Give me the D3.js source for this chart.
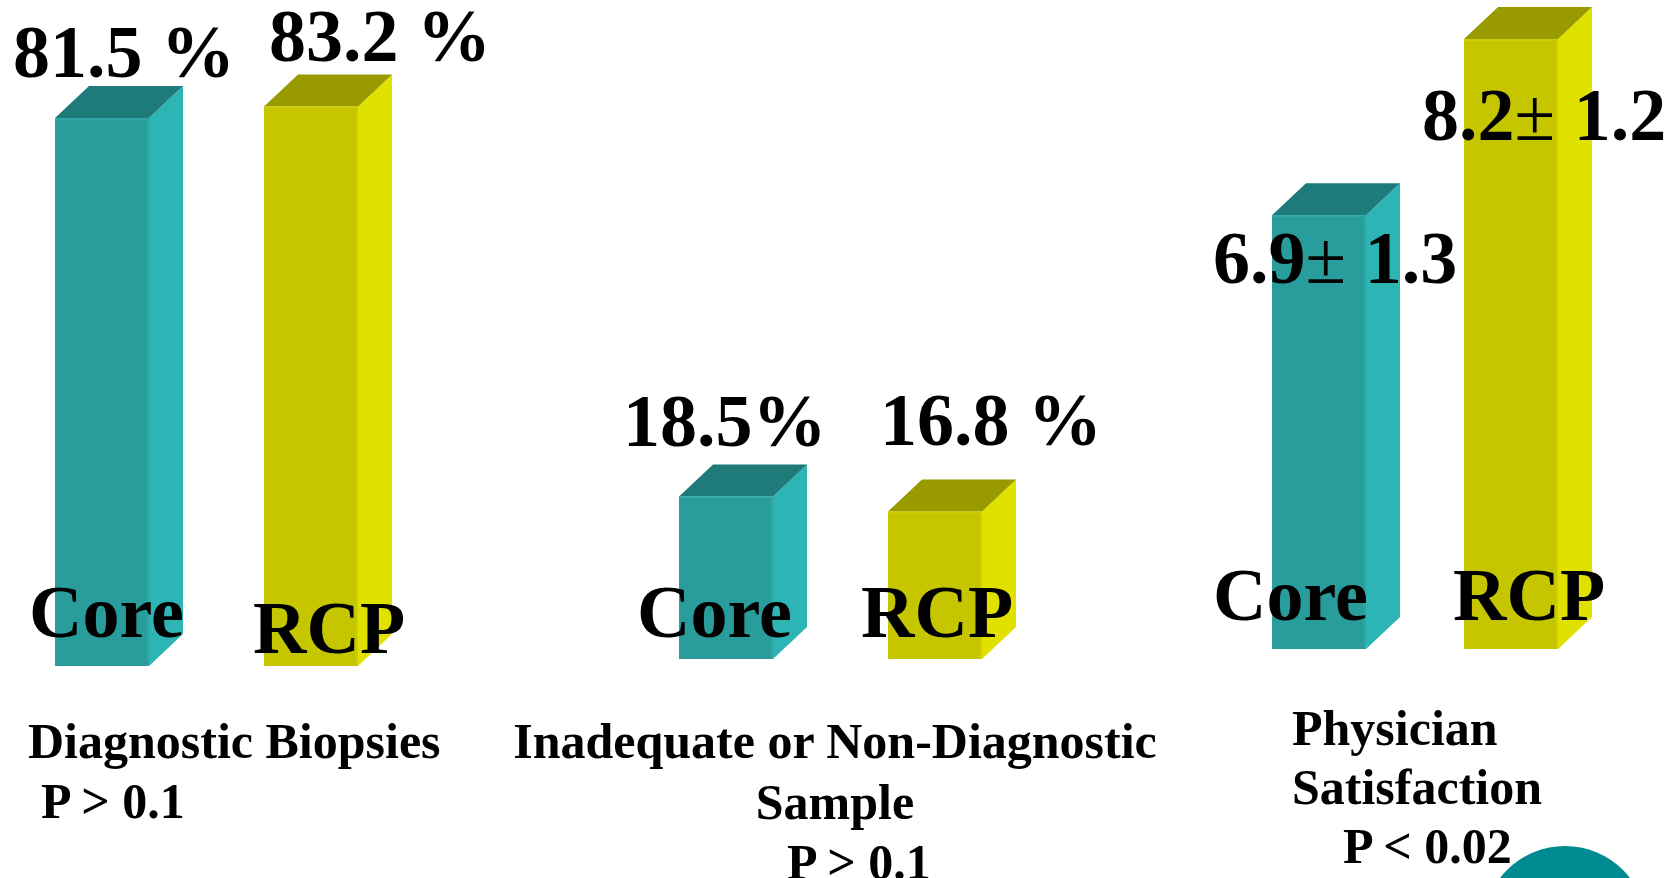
<!DOCTYPE html>
<html>
<head>
<meta charset="utf-8">
<script src="https://cdn.jsdelivr.net/npm/d3@7"></script>
<style>
  html, body { margin: 0; padding: 0; background: #ffffff; }
  svg { display: block; }
  text { font-family: "Liberation Serif", "Times New Roman", Times, serif; font-weight: bold; fill: #000; }
</style>
</head>
<body>
<svg id="chart" width="1679" height="878"></svg>
<script>
// ---- data ----
const categories = ["Diagnostic Biopsies", "Inadequate or Non-Diagnostic Sample", "Physician Satisfaction"];
const series = ["Core", "RCP"];
const coreValues = [81.5, 18.5, 6.9];
const rcpValues = [83.2, 16.8, 8.2];
const coreSD = [null, null, 1.3];
const rcpSD = [null, null, 1.2];
const coreUnitSep = [" ", "", ""];
const rcpUnitSep = [" ", " ", ""];
const pLabels = ["P > 0.1", "P > 0.1", "P < 0.02"];
const categoryLines = [["Diagnostic Biopsies"], ["Inadequate or Non-Diagnostic", "Sample"], ["Physician", "Satisfaction"]];

// ---- layout ----
const W = 1679, H = 878;
const barW = 94, depthX = 34, depthY = 32;
const colors = {
  Core: { front: "#299c9c", side: "#2db4b5", top: "#1f7b79", edge: "#30a6a6" },
  RCP:  { front: "#c6c600", side: "#e1e100", top: "#999900", edge: "#cdcd08" }
};
// one panel per category: bar positions, baseline and value scale
const panels = [
  { xRange: [55, 264],    domain: [0, 100],  yRange: [666, -6.5],
    valuePos: { Core: [13, 77], RCP: [269, 61] },
    namePos:  { Core: [29, 637], RCP: [253, 653] },
    catPos: { anchor: "start", x: 28, y: [758] },
    pPos: { anchor: "start", x: 41, y: 818 } },
  { xRange: [679, 888],   domain: [0, 20],   yRange: [659, 483.4],
    valuePos: { Core: [623, 446], RCP: [880, 445] },
    namePos:  { Core: [637, 637], RCP: [861, 637] },
    catPos: { anchor: "middle", x: 835, y: [758, 819] },
    pPos: { anchor: "start", x: 787, y: 879 } },
  { xRange: [1272, 1464], domain: [3.7, 8.2], yRange: [649, 39],
    valuePos: { Core: [1213, 283], RCP: [1422, 140] },
    namePos:  { Core: [1213, 620], RCP: [1453, 620] },
    catPos: { anchor: "start", x: 1292, y: [745, 804] },
    pPos: { anchor: "start", x: 1343, y: 863 } }
];

const svg = d3.select("#chart");
svg.append("rect").attr("width", W).attr("height", H).attr("fill", "#fff");

const barsLayer = svg.append("g").attr("class", "bars");
const textLayer = svg.append("g").attr("class", "labels");

const valuesBySeries = { Core: coreValues, RCP: rcpValues };
const sdBySeries = { Core: coreSD, RCP: rcpSD };
const sepBySeries = { Core: coreUnitSep, RCP: rcpUnitSep };

panels.forEach((p, i) => {
  const x = d3.scalePoint().domain(series).range(p.xRange);
  const y = d3.scaleLinear().domain(p.domain).range(p.yRange);
  const base = y(p.domain[0]);

  const data = series.map(s => ({ s, v: valuesBySeries[s][i], sd: sdBySeries[s][i], sep: sepBySeries[s][i] }));

  const g = barsLayer.append("g").attr("class", "panel-" + i);
  const bar = g.selectAll("g.bar").data(data).join("g").attr("class", "bar");

  // side face
  bar.append("path")
    .attr("d", d => {
      const x0 = x(d.s), yt = y(d.v);
      return `M${x0 + barW},${yt} L${x0 + barW + depthX},${yt - depthY} L${x0 + barW + depthX},${base - depthY} L${x0 + barW},${base} Z`;
    })
    .attr("fill", d => colors[d.s].side);

  // top face
  bar.append("path")
    .attr("d", d => {
      const x0 = x(d.s), yt = y(d.v);
      return `M${x0},${yt} L${x0 + depthX},${yt - depthY} L${x0 + barW + depthX},${yt - depthY} L${x0 + barW},${yt} Z`;
    })
    .attr("fill", d => colors[d.s].top);

  // front face
  bar.append("rect")
    .attr("x", d => x(d.s))
    .attr("y", d => y(d.v))
    .attr("width", barW)
    .attr("height", d => base - y(d.v))
    .attr("fill", d => colors[d.s].front);

  // thin highlight along the front's upper and right edges
  bar.append("path")
    .attr("d", d => {
      const x0 = x(d.s), yt = y(d.v);
      return `M${x0},${yt + 1} L${x0 + barW - 1},${yt + 1} L${x0 + barW - 1},${base}`;
    })
    .attr("fill", "none")
    .attr("stroke", d => colors[d.s].edge)
    .attr("stroke-width", 2);

  // value labels
  data.forEach(d => {
    const [lx, ly] = p.valuePos[d.s];
    const t = textLayer.append("text")
      .attr("x", lx).attr("y", ly)
      .attr("font-size", 74);
    if (d.sd != null) {
      t.append("tspan").text(d.v.toFixed(1));
      t.append("tspan").attr("font-weight", "normal").text("\u00b1");
      t.append("tspan").text(" " + d.sd.toFixed(1));
    } else {
      t.text(d.v.toFixed(1) + d.sep + "%");
    }
  });

  // series names on the bars
  data.forEach(d => {
    const [nx, ny] = p.namePos[d.s];
    textLayer.append("text")
      .attr("x", nx).attr("y", ny)
      .attr("font-size", 74)
      .text(d.s);
  });

  // category caption and p-value
  categoryLines[i].forEach((line, j) => {
    textLayer.append("text")
      .attr("x", p.catPos.x).attr("y", p.catPos.y[j])
      .attr("text-anchor", p.catPos.anchor)
      .attr("font-size", 50)
      .text(line);
  });
  textLayer.append("text")
    .attr("x", p.pPos.x).attr("y", p.pPos.y)
    .attr("text-anchor", p.pPos.anchor)
    .attr("font-size", 50)
    .text(pLabels[i]);
});

// teal disc peeking in at the bottom right
svg.append("circle")
  .attr("cx", 1565).attr("cy", 928).attr("r", 82)
  .attr("fill", "#008b92");
</script>
</body>
</html>
